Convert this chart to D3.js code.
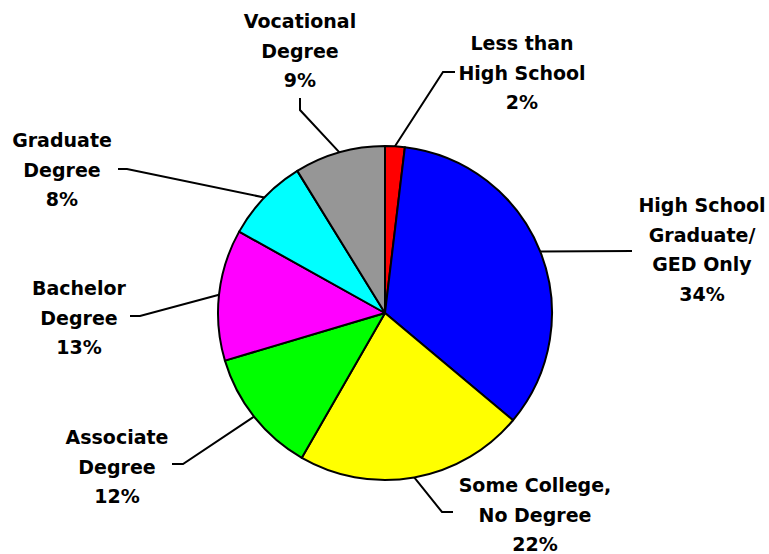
<!DOCTYPE html>
<html>
<head>
<meta charset="utf-8">
<script src="https://cdn.jsdelivr.net/npm/d3@7"></script>
<style>
  body { margin: 0; background: #fff; }
  text { font-family: "DejaVu Sans", Verdana, sans-serif; font-weight: bold; font-size: 19px; fill: #000; }
</style>
</head>
<body>
<div id="display"></div>
<script>
// slice names, each line of the label is one entry
let categories = [
  ["Less than", "High School"],
  ["High School", "Graduate/", "GED Only"],
  ["Some College,", "No Degree"],
  ["Associate", "Degree"],
  ["Bachelor", "Degree"],
  ["Graduate", "Degree"],
  ["Vocational", "Degree"]
];
let shares = [1.9, 34.2, 22.2, 12.1, 12.7, 8.1, 8.8]; // percent of total
let sliceColors = ["#ff0000", "#0000ff", "#ffff00", "#00ff00", "#ff00ff", "#00ffff", "#969696"];

// where each label sits: text centre x, first baseline y, leader end + elbow
let labelLayout = [
  {tx: 522, ty: 50,  ex: 455, ey: 72,  bx: 443, by: 72},
  {tx: 702, ty: 212, ex: 632, ey: 251, bx: 632, by: 251},
  {tx: 535, ty: 492, ex: 453, ey: 512, bx: 442, by: 512},
  {tx: 117, ty: 444, ex: 172, ey: 464, bx: 183, by: 464},
  {tx: 79,  ty: 295, ex: 130, ey: 316, bx: 140, by: 316},
  {tx: 62,  ty: 147, ex: 118, ey: 169, bx: 127, by: 169},
  {tx: 300, ty: 28,  ex: 300, ey: 98,  bx: 300, by: 110}
];

let width = 769, height = 554;
let cx = 385, cy = 313, radius = 167;
let lineGap = 29.5;

let svg = d3.select("#display").append("svg")
  .attr("width", width).attr("height", height);

let pie = d3.pie().sort(null).value(function(d){ return d; });
let arcs = pie(shares);
let arc = d3.arc().innerRadius(0).outerRadius(radius);

let g = svg.append("g").attr("transform", "translate(" + cx + "," + cy + ")");

g.selectAll("path.slice")
  .data(arcs)
  .enter().append("path")
    .attr("class", "slice")
    .attr("d", arc)
    .attr("fill", function(d,i){ return sliceColors[i]; })
    .attr("stroke", "#000")
    .attr("stroke-width", 2)
    .attr("stroke-linejoin", "round");

// leader lines: from the slice's mid-angle on the rim, to the elbow, to the label
svg.selectAll("polyline.leader")
  .data(arcs)
  .enter().append("polyline")
    .attr("class", "leader")
    .attr("fill", "none")
    .attr("stroke", "#000")
    .attr("stroke-width", 2)
    .attr("points", function(d,i){
      let a = (d.startAngle + d.endAngle) / 2;
      let px = cx + radius * Math.sin(a);
      let py = cy - radius * Math.cos(a);
      let L = labelLayout[i];
      return [[px, py], [L.bx, L.by], [L.ex, L.ey]].map(function(p){ return p.join(","); }).join(" ");
    });

// labels: name lines + rounded percentage
let labels = svg.selectAll("text.lbl")
  .data(arcs)
  .enter().append("text")
    .attr("class", "lbl")
    .attr("text-anchor", "middle");

labels.each(function(d,i){
  let lines = categories[i].concat([Math.round(shares[i]) + "%"]);
  let L = labelLayout[i];
  d3.select(this).selectAll("tspan")
    .data(lines)
    .enter().append("tspan")
      .attr("x", L.tx)
      .attr("y", function(t,j){ return L.ty + j * lineGap; })
      .text(function(t){ return t; });
});
</script>
</body>
</html>
